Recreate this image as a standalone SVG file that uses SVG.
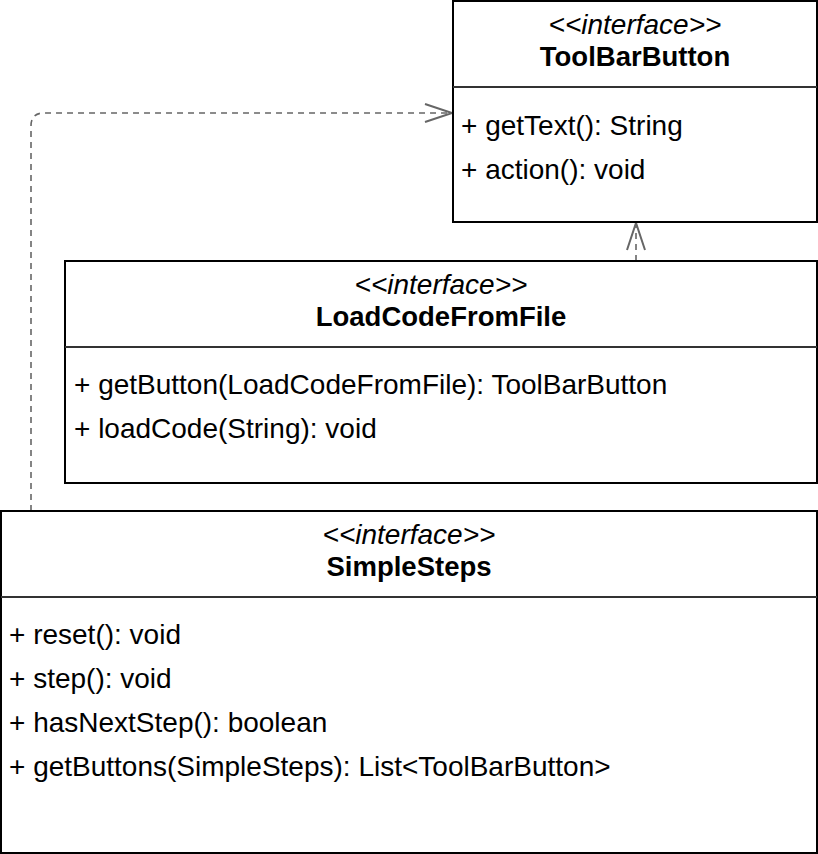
<svg xmlns="http://www.w3.org/2000/svg" width="818" height="854" viewBox="0 0 818 854">
<style>
.box{fill:#fff;stroke:#000;stroke-width:2}
.div{stroke:#333;stroke-width:2}
text{font-family:"Liberation Sans",Arial,sans-serif;font-size:28px;fill:#000}
.st{font-style:italic;text-anchor:middle}
.nm{font-weight:bold;text-anchor:middle;font-size:27.5px}
.edge{fill:none;stroke:#666;stroke-width:1.6;stroke-dasharray:6 5}
.head{fill:none;stroke:#666;stroke-width:2}
</style>
<rect width="818" height="854" fill="#fff"/>
<g id="edges">
<path class="edge" d="M31,511 V126 Q31,113 44,113 H451"/>
<path class="head" d="M425,104 L452,113 L425,122"/>
<path class="edge" d="M636,261 V224"/>
<path class="head" d="M627,250 L636,223 L645,250"/>
</g>
<g id="ToolBarButton">
<rect class="box" x="453" y="1" width="364" height="221"/>
<line class="div" x1="453" y1="87" x2="817" y2="87"/>
<text class="st" x="635" y="34">&lt;&lt;interface&gt;&gt;</text>
<text class="nm" x="635" y="66">ToolBarButton</text>
<text x="461" y="135">+ getText(): String</text>
<text x="461" y="179">+ action(): void</text>
</g>
<g id="LoadCodeFromFile">
<rect class="box" x="65" y="261" width="752" height="222"/>
<line class="div" x1="65" y1="347" x2="817" y2="347"/>
<text class="st" x="441" y="294">&lt;&lt;interface&gt;&gt;</text>
<text class="nm" x="441" y="326">LoadCodeFromFile</text>
<text x="74" y="394">+ getButton(LoadCodeFromFile): ToolBarButton</text>
<text x="74" y="438">+ loadCode(String): void</text>
</g>
<g id="SimpleSteps">
<rect class="box" x="1" y="511" width="816" height="342"/>
<line class="div" x1="1" y1="597" x2="817" y2="597"/>
<text class="st" x="409" y="544">&lt;&lt;interface&gt;&gt;</text>
<text class="nm" x="409" y="576">SimpleSteps</text>
<text x="9" y="644">+ reset(): void</text>
<text x="9" y="688">+ step(): void</text>
<text x="9" y="732">+ hasNextStep(): boolean</text>
<text x="9" y="776">+ getButtons(SimpleSteps): List&lt;ToolBarButton&gt;</text>
</g>
</svg>
